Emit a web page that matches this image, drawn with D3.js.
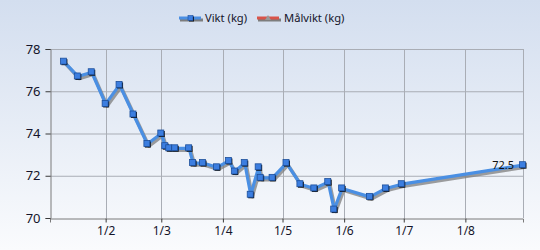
<!DOCTYPE html>
<html><head><meta charset="utf-8">
<script src="https://cdn.jsdelivr.net/npm/d3@7"></script>
<style>html,body{margin:0;padding:0;background:#fff}svg{display:block}</style>
</head><body>
<script>
const dates = ["2011-01-11","2011-01-18","2011-01-25","2011-02-01","2011-02-08","2011-02-15","2011-02-22","2011-03-01","2011-03-03","2011-03-05","2011-03-08","2011-03-15","2011-03-17","2011-03-22","2011-03-29","2011-04-04","2011-04-07","2011-04-12","2011-04-15","2011-04-19","2011-04-20","2011-04-26","2011-05-03","2011-05-10","2011-05-17","2011-05-24","2011-05-27","2011-05-31","2011-06-14","2011-06-22","2011-06-30","2011-08-30"];
const weights = [77.4,76.7,76.9,75.4,76.3,74.9,73.5,74.0,73.4,73.3,73.3,73.3,72.6,72.6,72.4,72.7,72.2,72.6,71.1,72.4,71.9,71.9,72.6,71.6,71.4,71.7,70.4,71.4,71.0,71.4,71.6,72.5];
const yTicks = [70,72,74,76,78];
const xTickDates = ["2011-02-01","2011-03-01","2011-04-01","2011-05-01","2011-06-01","2011-07-01","2011-08-01"];
const xTickLabels = ["1/2","1/3","1/4","1/5","1/6","1/7","1/8"];
const seriesNames = ["Vikt (kg)","Målvikt (kg)"];
const seriesColors = ["#4a8fe3","#d9544a"];
const domainStart = "2011-01-04", domainEnd = "2011-08-30";

const W=540,H=250;
const parse = d3.utcParse("%Y-%m-%d");
const data = dates.map((d,i)=>({date:parse(d), v:weights[i]}));
const svg = d3.select("body").append("svg").attr("width",W).attr("height",H);
const defs = svg.append("defs");
const bg = defs.append("linearGradient").attr("id","bg").attr("x1",0).attr("y1",0).attr("x2",0).attr("y2",1);
bg.append("stop").attr("offset","0%").attr("stop-color","#d3deef");
bg.append("stop").attr("offset","100%").attr("stop-color","#fafbfd");
svg.append("rect").attr("width",W).attr("height",H).attr("fill","url(#bg)");

const L=50,R=523,T=49,B=218;
const x = d3.scaleUtc().domain([parse(domainStart),parse(domainEnd)]).range([L,R]);
const y = d3.scaleLinear().domain([70,78]).range([B,T]);
const font = "'Noto Sans', Tahoma, sans-serif";

// gridlines
const g = svg.append("g");
g.selectAll(".hg").data(yTicks.slice(1)).join("line")
  .attr("x1",L).attr("x2",R).attr("y1",d=>y(d)+0.5).attr("y2",d=>y(d)+0.5)
  .attr("stroke","#a9adb5").attr("stroke-width",1);
g.selectAll(".vg").data(xTickDates).join("line")
  .attr("x1",d=>Math.round(x(parse(d)))+0.5).attr("x2",d=>Math.round(x(parse(d)))+0.5)
  .attr("y1",T).attr("y2",B).attr("stroke","#a9adb5");
g.append("line").attr("x1",R+0.5).attr("x2",R+0.5).attr("y1",T).attr("y2",B).attr("stroke","#a9adb5");

// axes
const yAxis = svg.append("g").attr("transform",`translate(${L+0.5},0)`)
  .call(d3.axisLeft(y).tickValues(yTicks).tickSize(5).tickPadding(5));
const xAxis = svg.append("g").attr("transform",`translate(0,${B+0.5})`)
  .call(d3.axisBottom(x).tickValues(xTickDates.map(parse)).tickFormat((d,i)=>xTickLabels[i]).tickSize(4).tickPadding(4));
[yAxis,xAxis].forEach(a=>{
  a.select(".domain").attr("stroke","#7a7a7a");
  a.selectAll(".tick line").attr("stroke","#3a3a3a");
  a.selectAll("text").attr("font-family",font).attr("fill","#14142a");
});
yAxis.selectAll("text").attr("font-size",13);
xAxis.selectAll("text").attr("font-size",12);

// line
const line = d3.line().x(d=>x(d.date)).y(d=>y(d.v));
svg.append("path").datum(data).attr("d",line).attr("fill","none")
  .attr("stroke","#7d7d7d").attr("stroke-opacity",0.75).attr("stroke-width",3.5)
  .attr("stroke-linejoin","round").attr("transform","translate(1.5,2)");
svg.append("path").datum(data).attr("d",line).attr("fill","none")
  .attr("stroke",seriesColors[0]).attr("stroke-width",3.2).attr("stroke-linejoin","round");

const m = svg.append("g");
m.selectAll(".ms").data(data).join("rect")
  .attr("x",d=>x(d.date)-2.5).attr("y",d=>y(d.v)-2.5).attr("width",6).attr("height",6)
  .attr("fill","#111");
m.selectAll(".mk").data(data).join("rect")
  .attr("x",d=>x(d.date)-3.5).attr("y",d=>y(d.v)-3.5).attr("width",6).attr("height",6)
  .attr("fill","#3c7ee0").attr("stroke","#1d4f9a").attr("stroke-width",0.8);

// data label
const last = data[data.length-1];
svg.append("text").attr("x",x(last.date)-9).attr("y",y(last.v)+4)
  .attr("text-anchor","end").attr("font-family",font).attr("font-size",11)
  .attr("fill","#111").text(d3.format(".1f")(last.v));

// legend
const leg = svg.append("g");
const items = [{x:179,tx:205},{x:257,tx:284}];
items.forEach((it,i)=>{
  leg.append("line").attr("x1",it.x+1).attr("x2",it.x+24).attr("y1",20).attr("y2",20)
    .attr("stroke","#7d7d7d").attr("stroke-width",3);
  leg.append("line").attr("x1",it.x).attr("x2",it.x+22).attr("y1",18).attr("y2",18)
    .attr("stroke",seriesColors[i]).attr("stroke-width",3);
  if(i===0){
    leg.append("rect").attr("x",it.x+10).attr("y",16.5).attr("width",5).attr("height",5).attr("fill","#111");
    leg.append("rect").attr("x",it.x+9).attr("y",15.5).attr("width",5).attr("height",5).attr("fill","#3c7ee0").attr("stroke","#1d4f9a").attr("stroke-width",0.6);
  } else {
    leg.append("path").attr("d",`M${it.x+8},20 L${it.x+11},15 L${it.x+14},20 Z`).attr("fill","#999");
  }
  leg.append("text").attr("x",it.tx).attr("y",22).attr("font-family",font).attr("font-size",11.2)
    .attr("fill","#14142a").text(seriesNames[i]);
});
</script>
</body></html>
